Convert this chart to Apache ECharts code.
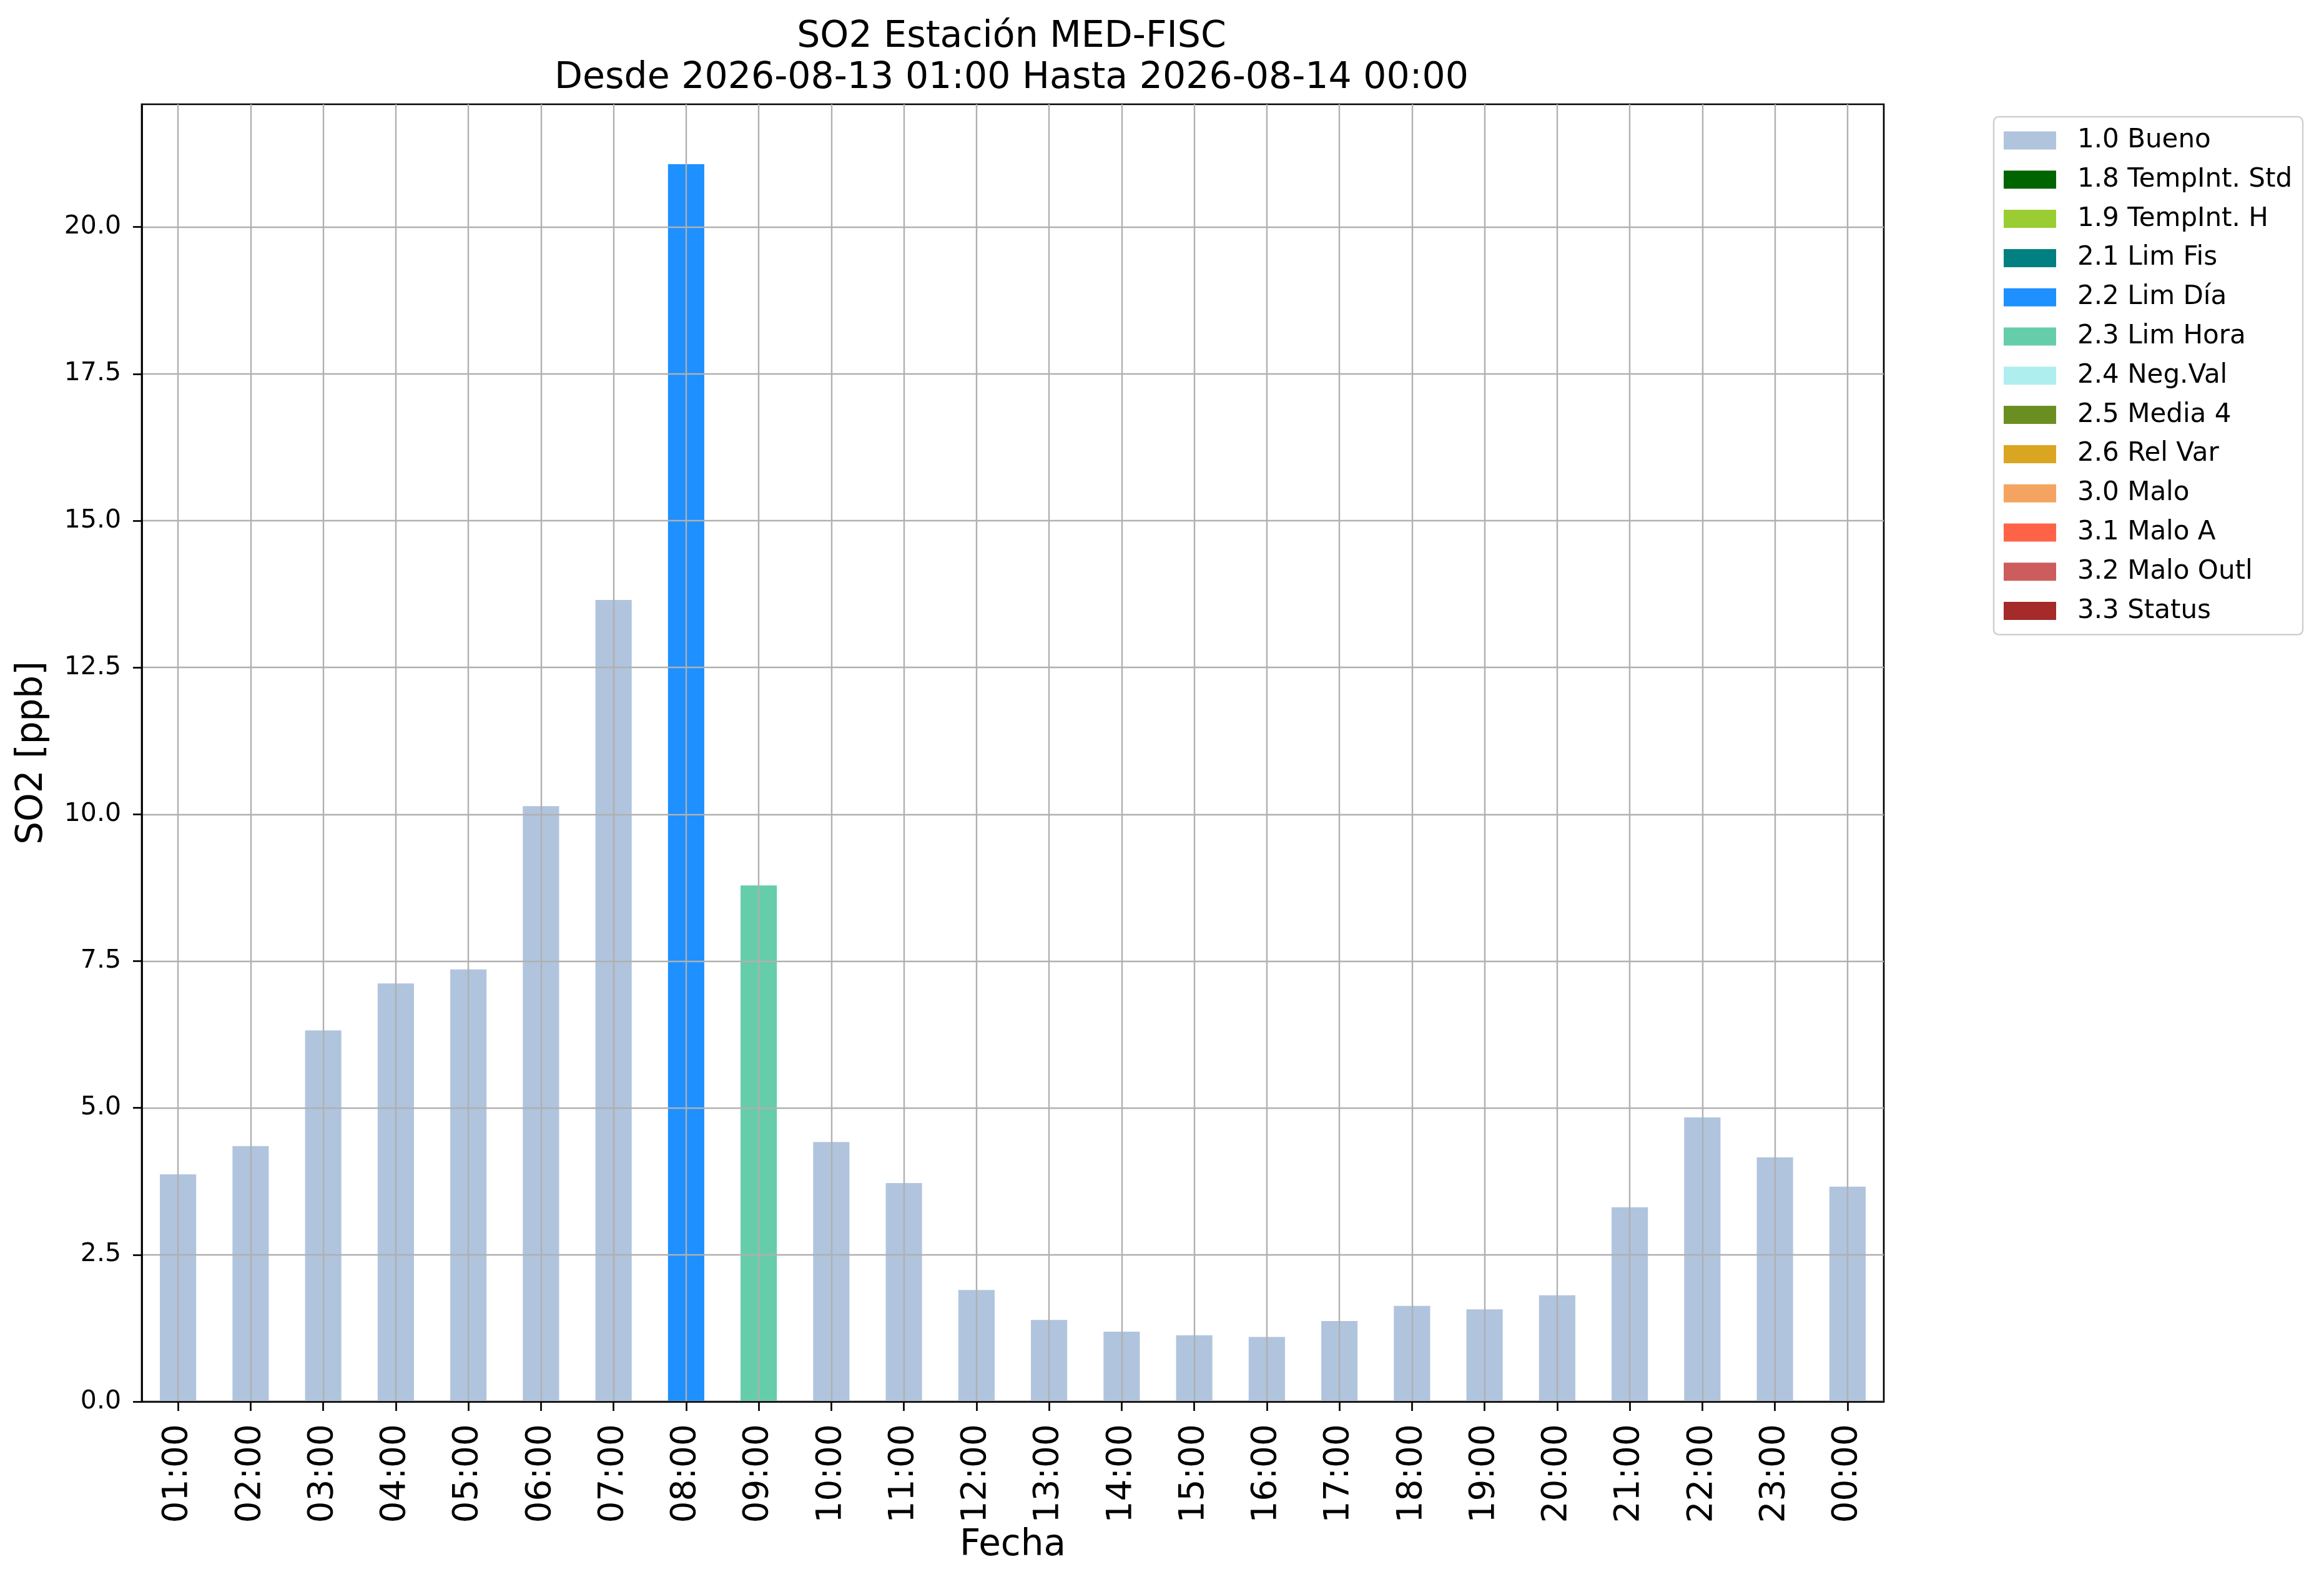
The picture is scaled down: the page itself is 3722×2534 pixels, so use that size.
<!DOCTYPE html>
<html>
<head>
<meta charset="utf-8">
<script src="https://cdn.jsdelivr.net/npm/echarts@6/dist/echarts.min.js"></script>
<style>
html,body{margin:0;padding:0;background:#fff;}
#chart{width:3722px;height:2534px;}
</style>
</head>
<body>
<div id="chart"></div>
<script>
// ---- data ----
const categories = ["01:00","02:00","03:00","04:00","05:00","06:00","07:00","08:00","09:00","10:00","11:00","12:00",
  "13:00","14:00","15:00","16:00","17:00","18:00","19:00","20:00","21:00","22:00","23:00","00:00"];
const values = [3.87, 4.35, 6.32, 7.12, 7.36, 10.14, 13.65, 21.07, 8.79, 4.42, 3.72, 1.90,
  1.39, 1.19, 1.13, 1.10, 1.37, 1.63, 1.57, 1.81, 3.31, 4.84, 4.16, 3.66];
const flags = ["1.0 Bueno","1.0 Bueno","1.0 Bueno","1.0 Bueno","1.0 Bueno","1.0 Bueno","1.0 Bueno","2.2 Lim Día","2.3 Lim Hora","1.0 Bueno","1.0 Bueno","1.0 Bueno",
  "1.0 Bueno","1.0 Bueno","1.0 Bueno","1.0 Bueno","1.0 Bueno","1.0 Bueno","1.0 Bueno","1.0 Bueno","1.0 Bueno","1.0 Bueno","1.0 Bueno","1.0 Bueno"];
const flagNames = ["1.0 Bueno","1.8 TempInt. Std","1.9 TempInt. H","2.1 Lim Fis","2.2 Lim Día","2.3 Lim Hora","2.4 Neg.Val",
  "2.5 Media 4","2.6 Rel Var","3.0 Malo","3.1 Malo A","3.2 Malo Outl","3.3 Status"];
const flagColors = ["#b0c4de","#006400","#9acd32","#008080","#1e90ff","#66cdaa","#afeeee",
  "#6b8e23","#daa520","#f4a460","#ff6347","#cd5c5c","#a52a2a"];
const yTicks = [0, 2.5, 5, 7.5, 10, 12.5, 15, 17.5, 20];
const yMax = 22.09;
const titleText = "SO2 Estación MED-FISC\nDesde 2026-08-13 01:00 Hasta 2026-08-14 00:00";

// ---- chart ----
const FONT = "DejaVu Sans";
const chart = echarts.init(document.getElementById('chart'), null, {renderer: 'canvas'});
const series = flagNames.map((name, k) => ({
  name: name,
  type: 'bar',
  stack: 'all',
  barWidth: '50%',
  itemStyle: {color: flagColors[k]},
  data: values.map((v, i) => flags[i] === name ? v : '-'),
  z: 2
}));

chart.setOption({
  animation: false,
  backgroundColor: '#fff',
  textStyle: {fontFamily: FONT},
  title: {
    text: titleText,
    left: 1615,
    top: 22,
    textAlign: 'center',
    textStyle: {fontFamily: FONT, fontSize: 58.5, fontWeight: 'normal', color: '#000', lineHeight: 66}
  },
  legend: {
    orient: 'vertical',
    left: 3193,
    top: 187,
    data: flagNames,
    itemWidth: 84,
    itemHeight: 29,
    itemGap: 20.8,
    icon: 'rect',
    padding: [17, 17, 17, 16],
    backgroundColor: '#fff',
    borderColor: '#d0d0d0',
    borderWidth: 2.5,
    borderRadius: 8,
    textStyle: {fontFamily: FONT, fontSize: 42, color: '#000', lineHeight: 42, padding: [0, 0, 0, 29]},
    selectedMode: false
  },
  grid: {
    left: 227, right: 705, top: 167, bottom: 289,
    show: true, borderColor: '#000', borderWidth: 2.7, backgroundColor: 'transparent',
    containLabel: false
  },
  xAxis: {
    type: 'category',
    data: categories,
    z: 5,
    name: 'Fecha',
    nameLocation: 'middle',
    nameGap: 200,
    nameTextStyle: {fontFamily: FONT, fontSize: 58, color: '#000'},
    axisLine: {show: true, lineStyle: {color: '#000', width: 2.7}},
    axisTick: {show: true, alignWithLabel: true, length: 15, lineStyle: {color: '#000', width: 2.7}},
    axisLabel: {rotate: 90, fontFamily: FONT, fontSize: 55, color: '#000', margin: 36, interval: 0},
    splitLine: {show: true, alignWithLabel: true, lineStyle: {color: '#b0b0b0', width: 2.4}}
  },
  yAxis: {
    type: 'value',
    min: 0,
    max: yMax,
    interval: 2.5,
    z: 5,
    name: 'SO2 [ppb]',
    nameLocation: 'middle',
    nameGap: 146,
    nameTextStyle: {fontFamily: FONT, fontSize: 58, color: '#000'},
    axisLine: {show: true, lineStyle: {color: '#000', width: 2.7}},
    axisTick: {show: true, length: 14, lineStyle: {color: '#000', width: 2.7}, customValues: yTicks},
    axisLabel: {fontFamily: FONT, fontSize: 41, color: '#000', margin: 33, customValues: yTicks,
      formatter: v => Number(v).toFixed(1)},
    splitLine: {show: true, lineStyle: {color: '#b0b0b0', width: 2.4}}
  },
  series: series
});
</script>
</body>
</html>
